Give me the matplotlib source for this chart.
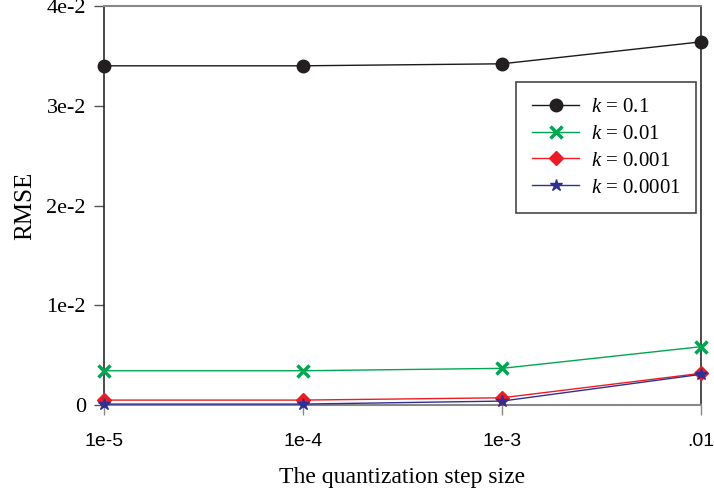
import numpy as np
import matplotlib.pyplot as plt

# data
step_sizes = [1e-5, 1e-4, 1e-3, 1e-2]
step_labels = ['1e-5', '1e-4', '1e-3', '.01']
rmse_k01 = [0.0340, 0.0340, 0.0342, 0.0364]
rmse_k001 = [0.00344, 0.00344, 0.00368, 0.00585]
rmse_k0001 = [0.00050, 0.00050, 0.00073, 0.00318]
rmse_k00001 = [0.00010, 0.00010, 0.00040, 0.00308]
y_ticks = [0, 0.01, 0.02, 0.03, 0.04]
y_labels = ['0', '1e-2', '2e-2', '3e-2', '4e-2']

serif = 'Liberation Serif'
sans = 'Liberation Sans'
plt.rcParams['mathtext.fontset'] = 'custom'
plt.rcParams['mathtext.it'] = 'Liberation Serif:italic'
plt.rcParams['mathtext.rm'] = 'Liberation Serif'

fig = plt.figure(figsize=(7.14, 4.94), dpi=100)
ax = fig.add_axes([0.1457, 0.180, 0.8361, 0.808])

series = [
    (rmse_k01, '#1a1a1a', '#231f20', 'o', 9, r'$k$ = 0.1'),
    (rmse_k001, '#00a651', '#00a651', 'x', 8, r'$k$ = 0.01'),
    (rmse_k0001, '#ed1c24', '#ed1c24', 'D', 7, r'$k$ = 0.001'),
    (rmse_k00001, '#2e3192', '#2e3192', '*', 9, r'$k$ = 0.0001'),
]
for vals, lc, mc, mk, ms, lab in series:
    ax.plot(step_sizes, vals, color=lc, lw=1.0, marker=mk, ms=ms,
            markerfacecolor=mc, markeredgecolor=mc, mew=2.5 if mk == 'x' else 1,
            label=lab, clip_on=False, zorder=3)

ax.set_xscale('log')
ax.set_xlim(1e-5, 1e-2)
ax.set_ylim(0, 0.04)
ax.set_xticks(step_sizes)
ax.set_xticklabels(step_labels, fontfamily=sans, fontsize=14)
ax.minorticks_off()
ax.set_yticks(y_ticks)
ax.set_yticklabels(y_labels, fontfamily=serif, fontsize=16)
ax.tick_params(axis='y', direction='out', length=7, width=1, color='#555555', pad=6)
ax.tick_params(axis='x', direction='out', length=7, width=1, color='#888888', pad=13)

for side in ['left', 'right']:
    ax.spines[side].set_color('#1a1a1a')
    ax.spines[side].set_linewidth(1.1)
for side in ['top', 'bottom']:
    ax.spines[side].set_color('#888888')
    ax.spines[side].set_linewidth(1.5)

ax.set_xlabel('The quantization step size', fontfamily=serif, fontsize=17)
ax.set_ylabel('RMSE', fontfamily=serif, fontsize=18)
ax.xaxis.set_label_coords(0.5, -0.155)
ax.yaxis.set_label_coords(-0.113, 0.5)

leg = ax.legend(loc='upper left', bbox_to_anchor=(0.69, 0.81), frameon=True,
                fancybox=False, edgecolor='#1a1a1a', prop={'family': serif, 'size': 15},
                handlelength=2.3, borderpad=0.75, labelspacing=0.35, handletextpad=0.55,
                borderaxespad=0)
leg.get_frame().set_linewidth(1.2)

fig.savefig('out.png', dpi=100)
